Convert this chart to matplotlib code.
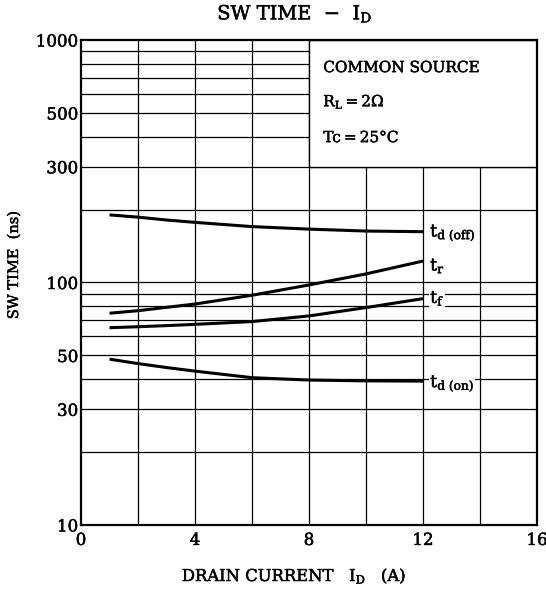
import matplotlib
matplotlib.use("Agg")
import matplotlib.pyplot as plt
import matplotlib.patheffects as pe
from matplotlib.patches import Rectangle

plt.rcParams['font.family'] = ['DejaVu Serif']
plt.rcParams['mathtext.fontset'] = 'dejavuserif'

# data
current = [1, 2, 3, 4, 6, 8, 10, 12]
td_off = [190, 186, 181, 177, 170, 166, 163, 162]
t_r = [74.7, 76.5, 79, 81.5, 88.6, 97.7, 108.5, 122.6]
t_f = [65.1, 65.7, 66.4, 67.2, 69, 72.8, 78.8, 85.8]
td_on = [48.3, 46.3, 44.6, 43.1, 40.5, 39.6, 39.3, 39.2]

series = [td_off, t_r, t_f, td_on]
labels = [r'$\mathrm{t_{d\ (off)}}$', r'$\mathrm{t_r}$', r'$\mathrm{t_f}$', r'$\mathrm{t_{d\ (on)}}$']
label_pos = [160, 117, 86, 38.3]

xticks = [0, 4, 8, 12, 16]
yticks = [10, 30, 50, 100, 300, 500, 1000]
ygrid = [20, 30, 40, 50, 60, 70, 80, 90, 100, 200, 300, 400, 500, 600, 700, 800, 900]
xgrid = [2, 4, 6, 8, 10, 12, 14]

thick = [pe.withStroke(linewidth=0.35, foreground='black')]

fig = plt.figure(figsize=(5.46, 5.91), dpi=100)
ax = fig.add_axes([0.1484, 0.1117, 0.8351, 0.8206])
ax.set_yscale('log')
ax.set_xlim(0, 16)
ax.set_ylim(10, 1000)

for y in ygrid:
    ax.axhline(y, color='black', lw=0.9, zorder=1)
for x in xgrid:
    ax.axvline(x, color='black', lw=0.9, zorder=1)

ax.add_patch(Rectangle((8, 300), 8, 700, facecolor='white', edgecolor='black', lw=1.0, zorder=2))

for s in series:
    ax.plot(current, s, color='black', lw=2.2, zorder=4, solid_capstyle='butt')

for lab, yv in zip(labels, label_pos):
    ax.text(12.25, yv, lab, fontsize=12.5, ha='left', va='center', zorder=5,
            bbox=dict(facecolor='white', edgecolor='none', pad=0.5), path_effects=thick)

ax.text(8.5, 766, 'COMMON SOURCE', fontsize=11, ha='left', va='center', zorder=5, path_effects=thick)
ax.text(8.5, 555, r'$\mathrm{R_L}$' + '\u2009=\u20092Ω', fontsize=11, ha='left', va='center', zorder=5, path_effects=thick)
ax.text(8.5, 394, 'Tc\u2009=\u200925°C', fontsize=11, ha='left', va='center', zorder=5, path_effects=thick)

ax.set_xticks(xticks)
ax.set_xticklabels([str(v) for v in xticks], fontsize=12)
ax.set_yticks(yticks)
ax.set_yticklabels([str(v) for v in yticks], fontsize=12)
ax.yaxis.set_minor_locator(matplotlib.ticker.NullLocator())
ax.tick_params(axis='y', length=0, pad=2)
ax.tick_params(axis='x', length=0, pad=5)
for t in ax.get_xticklabels() + ax.get_yticklabels():
    t.set_path_effects(thick)

for sp in ax.spines.values():
    sp.set_linewidth(1.6)
    sp.set_zorder(6)

fig.text(295 / 546, 1 - 14 / 591, r'SW TIME  −  $\mathrm{I_D}$', fontsize=14, ha='center', va='center', path_effects=thick)
fig.text(294 / 546, 1 - 576 / 591, r'DRAIN CURRENT   $\mathrm{I_D}$   (A)', fontsize=11.8, ha='center', va='center', path_effects=thick)
fig.text(14 / 546, 1 - 265 / 591, 'SW TIME  (ns)', fontsize=10.5, ha='center', va='center', rotation=90, path_effects=thick)

fig.savefig('out.png', dpi=100)
